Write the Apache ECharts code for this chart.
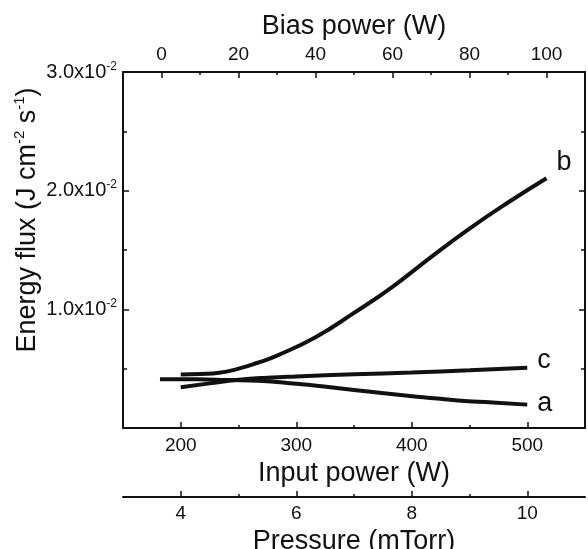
<!DOCTYPE html>
<html>
<head>
<meta charset="utf-8">
<script src="https://cdn.jsdelivr.net/npm/echarts@6/dist/echarts.min.js"></script>
<style>
  html, body { margin: 0; padding: 0; background: #fff; }
  #main { width: 588px; height: 549px; }
</style>
</head>
<body>
<div id="main"></div>
<script>
// curve a: energy flux vs input power (W)
var inputPower = [182, 215, 241, 267, 300, 324, 350, 382, 410, 440, 470, 500];
var fluxA = [0.00410, 0.00410, 0.00404, 0.00398, 0.00373, 0.00350, 0.00321, 0.00286, 0.00260, 0.00232, 0.00215, 0.00197];

// curve b: energy flux vs bias power (W)
var biasPower = [5, 10, 15, 20, 25, 30, 40, 50, 60, 70, 80, 90, 100];
var fluxB = [0.00450, 0.00455, 0.00465, 0.00500, 0.00550, 0.00610, 0.00765, 0.00970, 0.01190, 0.01440, 0.01680, 0.01900, 0.02105];

// curve c: energy flux vs pressure (mTorr)
var pressure = [4, 4.5, 5, 5.5, 6, 7, 8, 9, 10];
var fluxC = [0.00343, 0.00376, 0.00406, 0.00424, 0.00435, 0.00452, 0.00467, 0.00486, 0.00507];

// tick positions
var powerTicks = [200, 300, 400, 500];
var powerMinor = [250, 350, 450];
var biasTicks = [0, 20, 40, 60, 80, 100];
var biasMinor = [10, 30, 50, 70, 90];
var pressureTicks = [4, 6, 8, 10];
var pressureMinor = [5, 7, 9];

var font = 'Liberation Sans, Arial, Helvetica, sans-serif';
var black = '#111';

function zip(xs, ys) {
    return xs.map(function (x, i) { return [x, ys[i]]; });
}

var myChart = echarts.init(document.getElementById('main'));

function xAx(opts) {
    var base = {
        type: 'value',
        splitLine: { show: false },
        axisLine: { show: true, onZero: false, lineStyle: { color: black, width: 2 } },
        axisTick: { show: true, inside: true, length: 6, lineStyle: { color: black, width: 1.5 } },
        axisLabel: { show: true, color: black, fontFamily: font, fontSize: 19, margin: 8 },
        nameLocation: 'middle',
        nameTextStyle: { color: black, fontFamily: font, fontSize: 27 }
    };
    return echarts.util.merge(base, opts, true);
}

function yAx(opts) {
    var base = {
        type: 'value', min: 0, max: 0.03, interval: 0.01,
        splitLine: { show: false },
        axisLine: { show: true, onZero: false, lineStyle: { color: black, width: 2 } },
        axisTick: { show: true, inside: true, length: 6, lineStyle: { color: black, width: 1.5 } },
        minorTick: { show: true, splitNumber: 2, length: 4, lineStyle: { color: black, width: 1.5 } }
    };
    return echarts.util.merge(base, opts, true);
}

var option = {
    animation: false,
    backgroundColor: '#fff',
    grid: { left: 123, right: 3, top: 72, bottom: 121, containLabel: false, outerBoundsMode: 'none' },
    xAxis: [
        // 0: input power (bottom)
        xAx({
            position: 'bottom', min: 150, max: 550,
            axisTick: { customValues: powerTicks },
            axisLabel: { customValues: powerTicks },
            name: 'Input power (W)', nameGap: 24
        }),
        // 1: bias power (top)
        xAx({
            position: 'top', min: -10, max: 110,
            axisTick: { customValues: biasTicks },
            axisLabel: { customValues: biasTicks, margin: 8 },
            name: 'Bias power (W)', nameGap: 30
        }),
        // 2: pressure (second bottom axis)
        xAx({
            position: 'bottom', offset: 69, min: 3, max: 11,
            axisTick: { customValues: pressureTicks },
            axisLabel: { customValues: pressureTicks, margin: 7 },
            name: 'Pressure (mTorr)', nameGap: 21
        }),
        // minor tick overlays
        xAx({
            position: 'bottom', min: 150, max: 550,
            axisLine: { show: false },
            axisTick: { customValues: powerMinor, length: 3 },
            axisLabel: { show: false }
        }),
        xAx({
            position: 'top', min: -10, max: 110,
            axisLine: { show: false },
            axisTick: { customValues: biasMinor, length: 3 },
            axisLabel: { show: false }
        }),
        xAx({
            position: 'bottom', offset: 69, min: 3, max: 11,
            axisLine: { show: false },
            axisTick: { customValues: pressureMinor, length: 3 },
            axisLabel: { show: false }
        })
    ],
    yAxis: [
        yAx({
            position: 'left',
            axisLabel: {
                color: black, margin: 6,
                formatter: function (v) {
                    if (v === 0) return '';
                    return '{m|' + (v * 100).toFixed(1) + 'x10}{s|-2}';
                },
                rich: {
                    m: { fontFamily: font, fontSize: 20, color: black, lineHeight: 23 },
                    s: { fontFamily: font, fontSize: 12, color: black, verticalAlign: 'top', lineHeight: 12 }
                }
            },
            name: '{t|Energy flux (J cm}{s|-2}{t| s}{s|-1}{t|)}',
            nameLocation: 'middle',
            nameMoveOverlap: false,
            nameGap: 80,
            nameTextStyle: {
                padding: [0, 0, 0, 60],
                rich: {
                    t: { fontFamily: font, fontSize: 27, color: black, lineHeight: 31 },
                    s: { fontFamily: font, fontSize: 15, color: black, verticalAlign: 'top', lineHeight: 15 }
                }
            }
        }),
        yAx({
            position: 'right',
            axisLabel: { show: false }
        })
    ],
    series: [
        {
            name: 'a', type: 'line', xAxisIndex: 0, yAxisIndex: 0,
            data: zip(inputPower, fluxA), smooth: true, showSymbol: false,
            lineStyle: { color: black, width: 4 },
            endLabel: { show: true, formatter: 'a', color: black, fontFamily: font, fontSize: 27, offset: [2, -1] }
        },
        {
            name: 'b', type: 'line', xAxisIndex: 1, yAxisIndex: 0,
            data: zip(biasPower, fluxB), smooth: true, showSymbol: false,
            lineStyle: { color: black, width: 4 },
            endLabel: { show: true, formatter: 'b', color: black, fontFamily: font, fontSize: 27, offset: [2, -16] }
        },
        {
            name: 'c', type: 'line', xAxisIndex: 2, yAxisIndex: 0,
            data: zip(pressure, fluxC), smooth: true, showSymbol: false,
            lineStyle: { color: black, width: 4 },
            endLabel: { show: true, formatter: 'c', color: black, fontFamily: font, fontSize: 27, offset: [2, -7] }
        }
    ]
};

myChart.setOption(option);
</script>
</body>
</html>
